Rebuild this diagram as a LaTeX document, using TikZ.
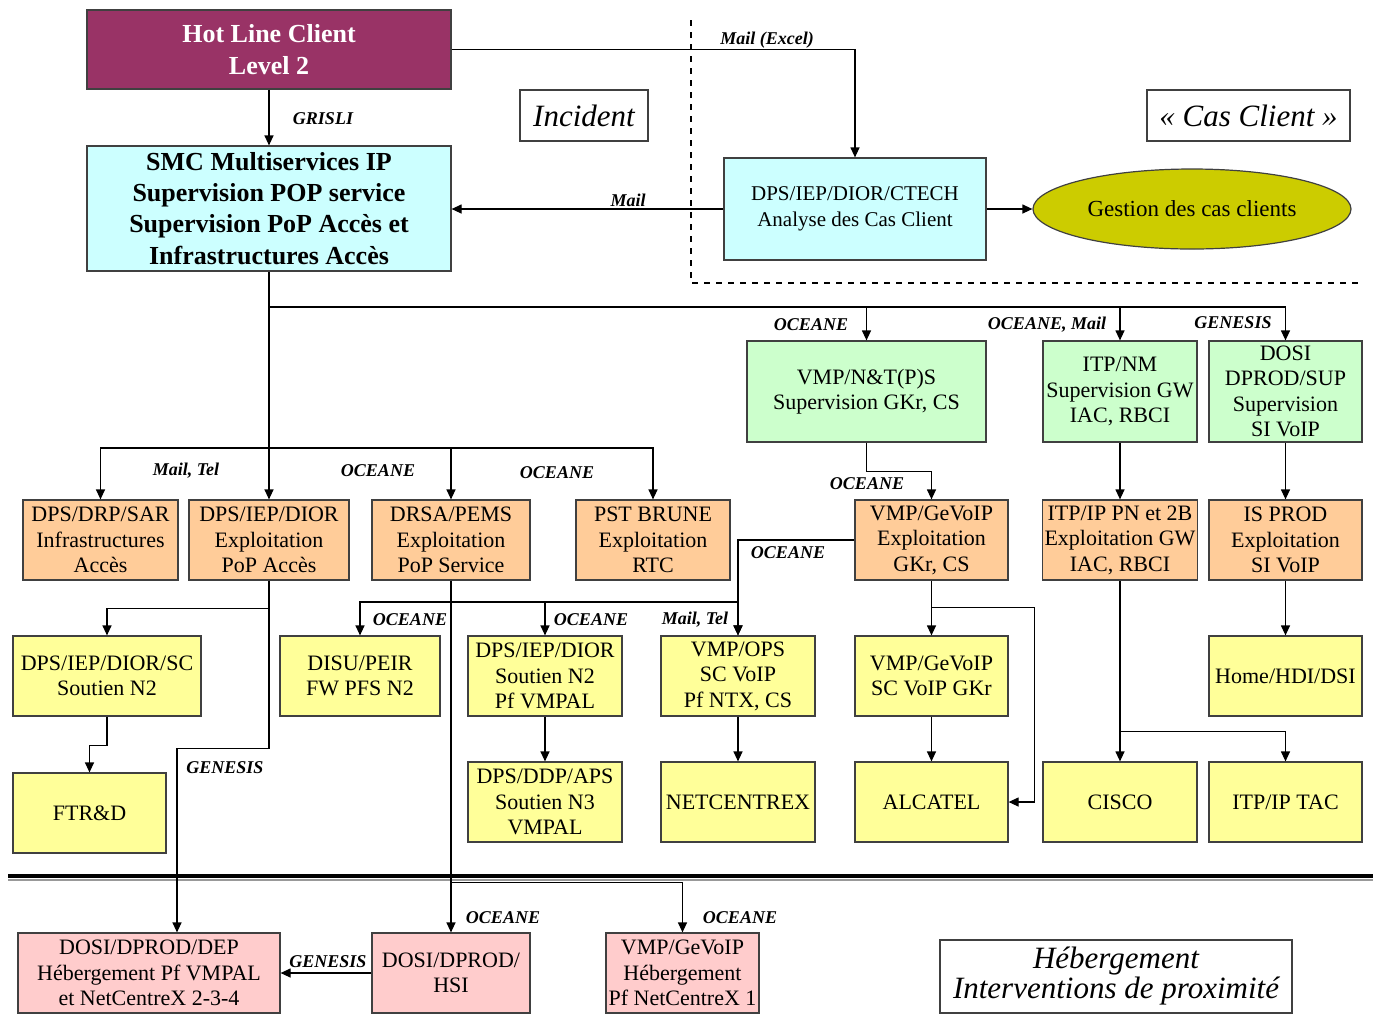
\documentclass[tikz,border=0pt]{standalone}
\usepackage{fontspec}
\setmainfont{Liberation Serif}
\usetikzlibrary{positioning, arrows.meta, shapes.geometric, calc}
\definecolor{hotline}{HTML}{993366}
\definecolor{smccyan}{HTML}{CCFFFF}
\definecolor{supgreen}{HTML}{CCFFCC}
\definecolor{exporange}{HTML}{FFCC99}
\definecolor{soutyellow}{HTML}{FFFF99}
\definecolor{hebpink}{HTML}{FFCCCC}
\definecolor{casolive}{HTML}{CCCC00}

\begin{document}
\begin{tikzpicture}[
    x=0.5pt, y=-0.5pt,
    box/.style={draw=black!75, line width=0.6pt, rectangle, inner sep=1pt, align=center, minimum width=77pt, minimum height=40pt, font=\fontsize{11}{12.7}\selectfont},
    tag/.style={draw=black!75, line width=0.6pt, rectangle, align=center, inner sep=1pt, font=\itshape\fontsize{15.5}{15}\selectfont},
    lbl/.style={font=\bfseries\itshape\fontsize{9}{10}\selectfont, inner sep=1pt},
    arr/.style={-{Triangle[length=5pt, width=4.5pt]}, line width=0.6pt},
    link/.style={line width=0.6pt}
]
    \useasboundingbox (0,0) rectangle (1378,1014);

    % top: hot line, SMC and cas client
    \node[box, fill=hotline, text=white, minimum width=182pt, minimum height=39.5pt, font=\bfseries\fontsize{13}{16}\selectfont] (hot) at (269,49.5) {Hot Line Client\\Level 2};
    \node[box, fill=smccyan, minimum width=182pt, minimum height=62.5pt, inner sep=0pt, font=\bfseries\fontsize{13}{15.6}\selectfont] (smc) at (269,208.5) {SMC Multiservices IP\\Supervision POP service\\Supervision PoP Accès et\\Infrastructures Accès};
    \node[tag, minimum width=64pt, minimum height=25.5pt] (incident) at (584,115.5) {Incident};
    \node[tag, minimum width=101.5pt, minimum height=25.5pt] (cascl) at (1248.5,115.5) {« Cas Client »};
    \node[box, fill=smccyan, minimum width=131pt, minimum height=51pt, font=\fontsize{10.5}{13}\selectfont] (ctech) at (855,209) {DPS/IEP/DIOR/CTECH\\Analyse des Cas Client};
    \node[draw=black!75, line width=0.6pt, ellipse, fill=casolive, minimum width=159pt, minimum height=40pt, inner sep=0pt, font=\fontsize{11.5}{13}\selectfont] (gestion) at (1192,209) {Gestion des cas clients};
    \draw[dashed, line width=0.6pt] (691,20) |- (1363,283);

    % supervision
    \node[box, fill=supgreen, minimum width=119.5pt, minimum height=50.5pt] (nts) at (866.5,391.5) {VMP/N\&T(P)S\\Supervision GKr, CS};
    \node[box, fill=supgreen, minimum height=50.5pt] (itpnm) at (1120,391.5) {ITP/NM\\Supervision GW\\IAC, RBCI};
    \node[box, fill=supgreen, minimum width=76.5pt, minimum height=50.5pt] (dosisup) at (1285.5,391.5) {DOSI\\DPROD/SUP\\Supervision\\SI VoIP};

    % exploitation
    \node[box, fill=exporange, minimum width=77.5pt] (sar) at (100.5,540) {DPS/DRP/SAR\\Infrastructures\\Accès};
    \node[box, fill=exporange, minimum width=80pt] (pop) at (269,540) {DPS/IEP/DIOR\\Exploitation\\PoP Accès};
    \node[box, fill=exporange, minimum width=79pt] (drsa) at (451,540) {DRSA/PEMS\\Exploitation\\PoP Service};
    \node[box, fill=exporange] (pst) at (653,540) {PST BRUNE\\Exploitation\\RTC};
    \node[box, fill=exporange, minimum width=76.5pt] (gevoip) at (931.5,540) {VMP/GeVoIP\\Exploitation\\GKr, CS};
    \node[box, fill=exporange] (itppn) at (1120,540) {ITP/IP PN et 2B\\Exploitation GW\\IAC, RBCI};
    \node[box, fill=exporange, minimum width=76.5pt] (isprod) at (1285.5,540) {IS PROD\\Exploitation\\SI VoIP};

    % soutien
    \node[box, fill=soutyellow, minimum width=94pt] (sc) at (107,676) {DPS/IEP/DIOR/SC\\Soutien N2};
    \node[box, fill=soutyellow, minimum width=80pt] (disu) at (360,676) {DISU/PEIR\\FW PFS N2};
    \node[box, fill=soutyellow] (sn2) at (545,676) {DPS/IEP/DIOR\\Soutien N2\\Pf VMPAL};
    \node[box, fill=soutyellow] (ops) at (738,676) {VMP/OPS\\SC VoIP\\Pf NTX, CS};
    \node[box, fill=soutyellow, minimum width=76.5pt] (gesc) at (931.5,676) {VMP/GeVoIP\\SC VoIP GKr};
    \node[box, fill=soutyellow, minimum width=76.5pt] (home) at (1285.5,676) {Home/HDI/DSI};

    \node[box, fill=soutyellow, minimum width=76.5pt] (ftrd) at (89.5,813) {FTR\&D};
    \node[box, fill=soutyellow] (aps) at (545,802) {DPS/DDP/APS\\Soutien N3\\VMPAL};
    \node[box, fill=soutyellow] (ntx) at (738,802) {NETCENTREX};
    \node[box, fill=soutyellow, minimum width=76.5pt] (alcatel) at (931.5,802) {ALCATEL};
    \node[box, fill=soutyellow] (cisco) at (1120,802) {CISCO};
    \node[box, fill=soutyellow, minimum width=76.5pt] (tac) at (1285.5,802) {ITP/IP TAC};

    % hebergement
    \draw[line width=1.6pt] (8,876) -- (1373,876);
    \draw[line width=0.8pt, black!40] (8,880) -- (1373,880);
    \node[box, fill=hebpink, minimum width=131pt] (dep) at (149,973) {DOSI/DPROD/DEP\\Hébergement Pf VMPAL\\et NetCentreX 2-3-4};
    \node[box, fill=hebpink, minimum width=79pt] (hsi) at (451,973) {DOSI/DPROD/\\HSI};
    \node[box, fill=hebpink, minimum width=76.5pt] (heb) at (682.5,973) {VMP/GeVoIP\\Hébergement\\Pf NetCentreX 1};
    \node[tag, minimum width=176pt, minimum height=36.5pt] (hebtag) at (1116,976.5) {Hébergement\\Interventions de proximité};

    % links from the top
    \draw[arr] (hot) -- (smc);
    \node[lbl] at (323,119) {GRISLI};
    \draw[arr] (hot.east) -| (ctech);
    \node[lbl] at (767,40) {Mail (Excel)};
    \draw[arr] (ctech.west) -- (ctech.west -| smc.east);
    \node[lbl] at (628,200) {Mail};
    \draw[arr] (ctech) -- (gestion);

    \coordinate (smcbus) at (269,307);
    \coordinate (popbus) at (269,448);
    \draw[arr] (smc) -- (pop);
    \draw[arr] (smcbus) -| (nts);
    \draw[arr] (smcbus) -| (itpnm);
    \draw[arr] (smcbus) -| (dosisup);
    \node[lbl] at (811,325) {OCEANE};
    \node[lbl] at (1047,325) {OCEANE, Mail};
    \node[lbl] at (1233,323) {GENESIS};
    \draw[arr] (popbus) -| (sar);
    \draw[arr] (popbus) -| (drsa);
    \draw[arr] (popbus) -| (pst);
    \node[lbl] at (186,471) {Mail, Tel};
    \node[lbl] at (378,471) {OCEANE};
    \node[lbl] at (557,473) {OCEANE};

    % voip side
    \draw[arr] (nts.south) -- ++(0,29) -| (gevoip);
    \node[lbl] at (867,484) {OCEANE};
    \draw[arr] (itpnm) -- (itppn);
    \draw[arr] (dosisup) -- (isprod);
    \draw[arr] (gevoip.west) -| (ops);
    \node[lbl] at (788,553) {OCEANE};
    \draw[arr] (gevoip) -- (gesc);
    \draw[arr] (gevoip.south) ++(0,27) -- ++(103,0) |- (alcatel.east);
    \draw[arr] (gesc) -- (alcatel);
    \draw[arr] (ops) -- (ntx);
    \draw[arr] (itppn) -- (cisco);
    \draw[arr] (itppn.south) ++(0,151) -| (tac);
    \draw[arr] (isprod) -- (home);

    % pop service side
    \coordinate (drsabus) at (451,602);
    \draw[arr] (drsa) -- (hsi);
    \draw[arr] (drsabus) -| (disu);
    \draw[arr] (drsabus) -| (sn2);
    \draw[arr] (drsabus) -| (ops);
    \node[lbl] at (410,620) {OCEANE};
    \node[lbl] at (591,620) {OCEANE};
    \node[lbl] at (695,620) {Mail, Tel};
    \draw[arr] (sn2) -- (aps);
    \draw[arr] (drsa.south) ++(0,302) -| (heb);
    \node[lbl] at (503,918) {OCEANE};
    \node[lbl] at (740,918) {OCEANE};
    \draw[arr] (hsi) -- (dep);
    \node[lbl] at (328,962) {GENESIS};

    % pop acces side
    \draw[arr] (pop.south) -- ++(0,28) -| (sc);
    \draw[arr] (pop.south) -- ++(0,168) -| ([xshift=14pt]dep.north);
    \node[lbl] at (225,768) {GENESIS};
    \draw[arr] (sc.south) -- ++(0,29) -| (ftrd);
\end{tikzpicture}
\end{document}
